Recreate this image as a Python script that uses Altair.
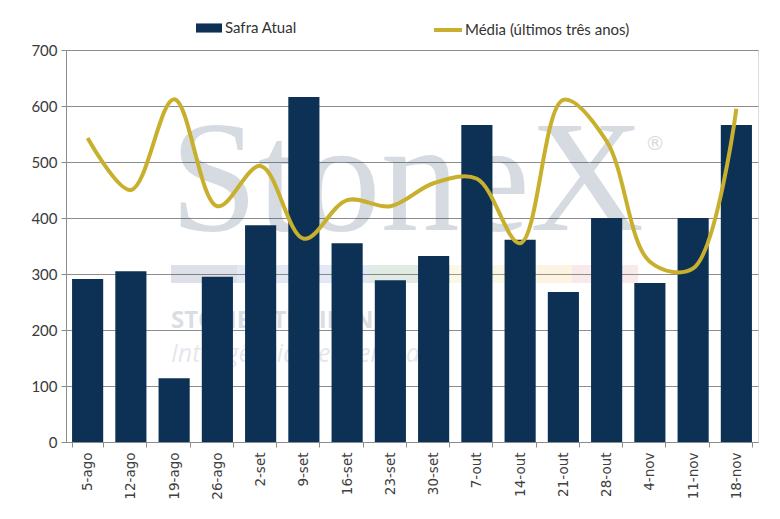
import altair as alt
import pandas as pd

semanas = ["5-ago", "12-ago", "19-ago", "26-ago", "2-set", "9-set", "16-set", "23-set",
           "30-set", "7-out", "14-out", "21-out", "28-out", "4-nov", "11-nov", "18-nov"]
safra_atual = [291, 305, 114, 295, 387, 616, 355, 289, 332, 566, 361, 268, 400, 284, 400, 566]
media_3anos = [543, 450, 612, 421, 493, 363, 432, 421, 462, 470, 355, 611, 537, 322, 310, 595]

NAVY = "#0c3154"
GOLD = "#c8b02e"

df = pd.DataFrame({"semana": semanas, "safra": safra_atual, "media": media_3anos})
df["s_bar"] = "Safra Atual"
df["s_line"] = "Média (últimos três anos)"

x_enc = alt.X("semana:N", sort=semanas, title=None,
              scale=alt.Scale(paddingInner=0.28, paddingOuter=0.14),
              axis=alt.Axis(labelAngle=-90, labelFont="DejaVu Sans", labelFontSize=13.5,
                            labelColor="#404040", tickBand="extent", tickSize=5,
                            tickColor="#8c8c8c", domainColor="#8c8c8c", labelPadding=5,
                            grid=False))

y_axis = alt.Axis(values=list(range(0, 701, 100)), grid=True, gridColor="#8c8c8c",
                  tickSize=5, tickColor="#8c8c8c", domainColor="#8c8c8c",
                  labelFont="Lato", labelFontSize=15, labelColor="#3a3a3a",
                  labelPadding=4)

# faint logo watermark behind the data
wm_strip = [(105, 171, "#33506f"), (171, 304, "#5a7fb0"), (304, 384, "#4f8a5c"),
            (384, 471, "#e6d36a"), (471, 506, "#f0b755"), (506, 572, "#d47a86")]
watermark = []
for x0, x1, c in wm_strip:
    watermark.append(
        alt.Chart(pd.DataFrame({"k": [0]})).mark_rect(color=c, opacity=0.17).encode(
            x=alt.value(x0), x2=alt.value(x1), y=alt.value(215), y2=alt.value(233)))
for txt, xv, yv, size, font, weight, style, op in [
    ("StoneX", 104, 180, 158, "Liberation Serif", "normal", "normal", 0.2),
    ("®", 579, 100, 20, "DejaVu Sans", "normal", "normal", 0.2),
    ("STONEX TRAINING", 105, 278, 24, "Open Sans", "bold", "normal", 0.18),
    ("Inteligência de Mercado", 105, 312, 25, "Open Sans", "normal", "italic", 0.13),
]:
    watermark.append(
        alt.Chart(pd.DataFrame({"t": [txt]})).mark_text(
            align="left", baseline="alphabetic", fontSize=size, font=font,
            fontWeight=weight, fontStyle=style, color="#33506f", opacity=op
        ).encode(text="t:N", x=alt.value(xv), y=alt.value(yv)))

bars = alt.Chart(df).mark_bar().encode(
    x=x_enc,
    y=alt.Y("safra:Q", title=None, scale=alt.Scale(domain=[0, 700]), axis=y_axis),
    color=alt.Color("s_bar:N", scale=alt.Scale(domain=["Safra Atual"], range=[NAVY]),
                    legend=alt.Legend(orient="none", legendX=130, legendY=-35, title=None,
                                      padding=0, symbolType="M-1,-0.35H1V0.35H-1Z",
                                      symbolSize=676, symbolStrokeWidth=0,
                                      labelFont="Lato", labelFontSize=15, labelLimit=400,
                                      labelColor="#333333", labelOffset=3)),
)

linha = alt.Chart(df).mark_line(interpolate="catmull-rom", strokeWidth=4).encode(
    x=alt.X("semana:N", sort=semanas),
    y=alt.Y("media:Q"),
    stroke=alt.Stroke("s_line:N",
                      scale=alt.Scale(domain=["Média (últimos três anos)"], range=[GOLD]),
                      legend=alt.Legend(orient="none", legendX=366, legendY=-36, title=None,
                                        padding=0, symbolType="stroke", symbolSize=784,
                                        symbolStrokeWidth=4, labelFont="Lato",
                                        labelFontSize=15, labelLimit=400,
                                        labelColor="#333333", labelOffset=1)),
)

chart = alt.layer(*watermark, bars, linha).properties(
    width=692, height=392,
    padding={"left": 58, "top": 42, "right": 14, "bottom": 61},
    autosize=alt.AutoSizeParams(type="none"),
).configure_view(stroke="#14304f", strokeWidth=1.5).configure(background="white")

chart.save("out.html", embed_options={"renderer": "svg", "actions": False})
